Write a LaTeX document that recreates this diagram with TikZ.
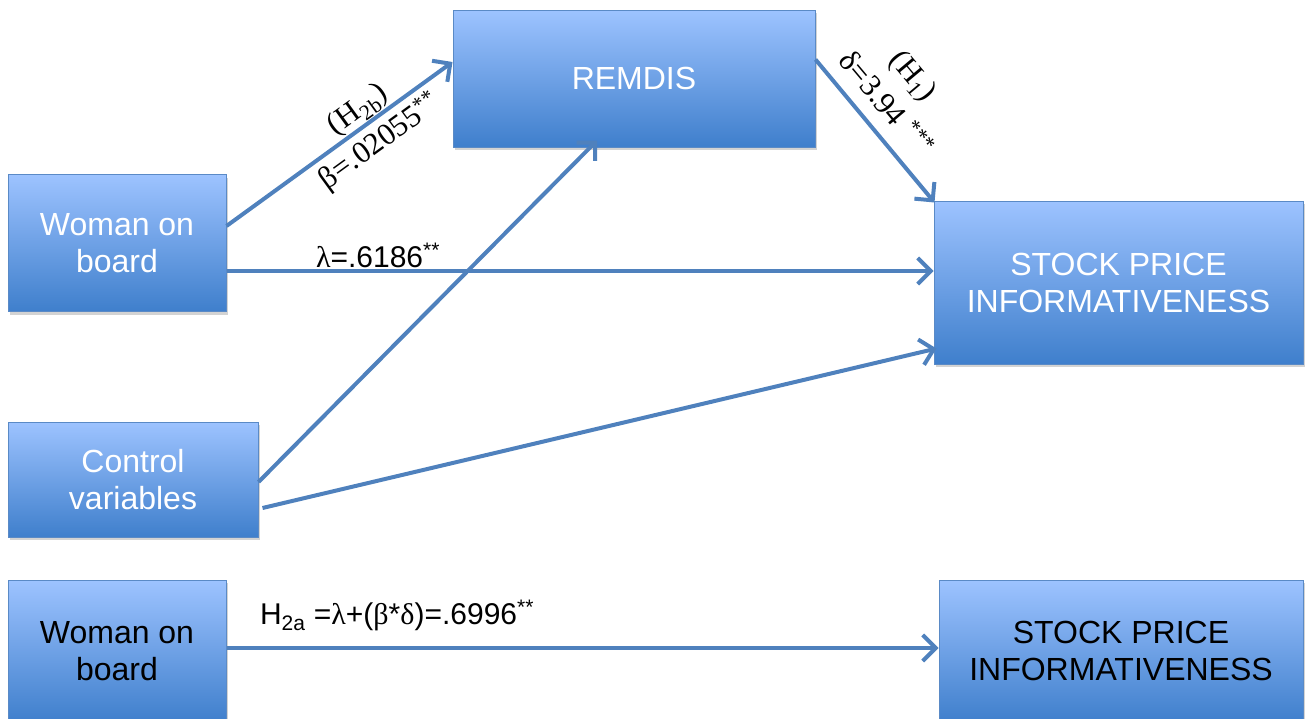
\documentclass[tikz,border=0pt]{standalone}
\usepackage{fontspec}
\setmainfont{Liberation Sans}
\newfontfamily\serifgr{Liberation Serif}
\usetikzlibrary{arrows.meta,shadows,calc}
\definecolor{arrowblue}{HTML}{4F81BD}
\definecolor{boxtop}{HTML}{9DC3FF}
\definecolor{boxbot}{HTML}{3F7FCC}
\definecolor{boxedge}{HTML}{5A8AC6}
\tikzset{
  boxnode/.style={draw=boxedge, line width=1pt, top color=boxtop, bottom color=boxbot,
    align=center, font=\fontsize{32}{37}\selectfont, inner sep=0pt,
    drop shadow={opacity=0.35, shadow xshift=2pt, shadow yshift=-3pt}},
  whitetext/.style={text=white},
  blacktext/.style={text=black},
  conn/.style={draw=arrowblue, line width=4pt, -{Straight Barb[length=13pt,width=26pt,line width=4pt]}},
  lbl/.style={font=\fontsize{30}{36}\selectfont, inner sep=0pt},
  slbl/.style={font=\serifgr\fontsize{31}{36}\selectfont, inner sep=0pt},
}
\begin{document}
\begin{tikzpicture}[x=1pt,y=-1pt]
\useasboundingbox (0,0) rectangle (1308,718);
% boxes
\node[boxnode, whitetext, minimum width=218pt, minimum height=137pt] (wob1) at (117,243) {Woman on\\board};
\node[boxnode, whitetext, minimum width=250pt, minimum height=115pt] (ctrl) at (133,479.5) {Control\\variables};
\node[boxnode, whitetext, minimum width=362pt, minimum height=137pt] (remdis) at (634,78.5) {REMDIS};
\node[boxnode, whitetext, minimum width=369pt, minimum height=163pt] (spi1) at (1118.5,282.5) {STOCK PRICE\\INFORMATIVENESS};
\node[boxnode, blacktext, minimum width=218pt, minimum height=142pt] (wob2) at (117,651) {Woman on\\board};
\node[boxnode, blacktext, minimum width=364pt, minimum height=142pt] (spi2) at (1121,651) {STOCK PRICE\\INFORMATIVENESS};
% connectors
\draw[conn] ([yshift=17pt]wob1.east) -- ([yshift=16.5pt]remdis.west);
\draw[conn] ([yshift=-28pt]wob1.east) -- ([yshift=11.5pt]spi1.west);
\draw[conn] ([yshift=-50pt]remdis.north east) -- ([xshift=1pt,yshift=-2pt]spi1.north west);
\draw[conn] ([yshift=-2.5pt]ctrl.east) -- ([xshift=-37pt,yshift=7pt]remdis.south);
\draw[conn] ([xshift=4pt,yshift=-28.5pt]ctrl.east) -- ([xshift=3pt,yshift=16pt]spi1.south west);
\draw[conn] ([yshift=3pt]wob2.east) -- ([yshift=3pt]spi2.west);
% labels
\node[slbl, rotate=36] (h2b) at (358,110) {(H\textsubscript{2b})};
\node[slbl, rotate=36] (beta) at (380,142) {β=.02055\textsuperscript{**}};
\node[slbl, rotate=-50] (h1) at (912,77) {(H\textsubscript{1})};
\node[slbl, rotate=-50] (delta) at (887,103) {δ=3.94 \textsuperscript{***}};
\node[lbl, anchor=base] (lambda) at (378,267) {{\serifgr λ}=.6186\textsuperscript{**}};
\node[lbl, anchor=base] (h2a) at (397,624) {H\textsubscript{2a} ={\serifgr λ}+({\serifgr β}*{\serifgr δ})=.6996\textsuperscript{**}};
\end{tikzpicture}
\end{document}
